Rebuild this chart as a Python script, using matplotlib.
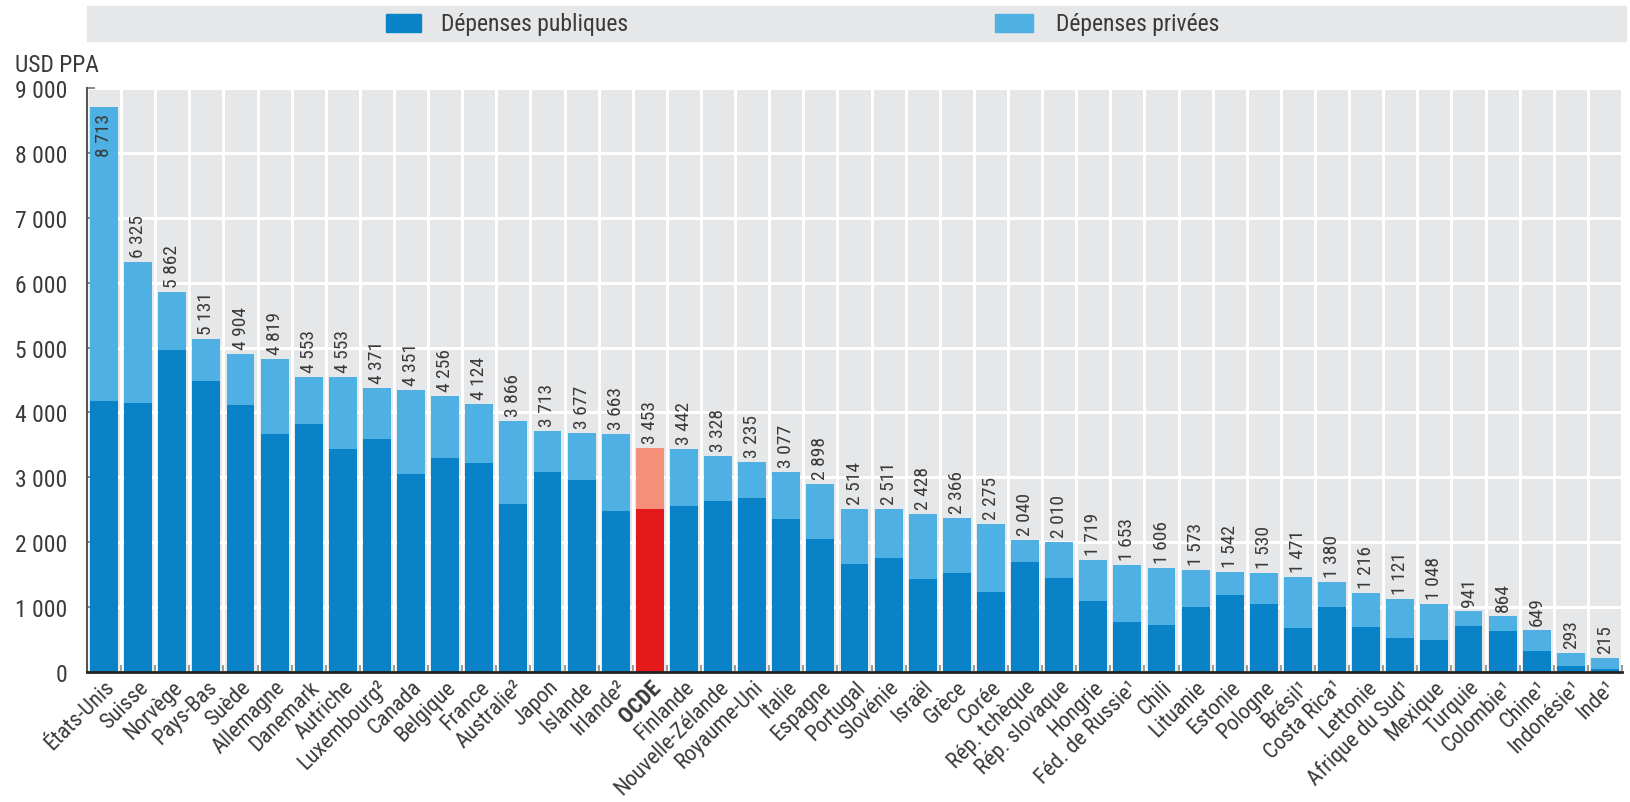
import numpy as np
import matplotlib
matplotlib.use("Agg")
import matplotlib.pyplot as plt
import matplotlib.font_manager as fm
from matplotlib.patches import Rectangle
import matplotlib.transforms as mtransforms

# ---------------- data ----------------
countries = ["États-Unis", "Suisse", "Norvège", "Pays-Bas", "Suède", "Allemagne", "Danemark",
             "Autriche", "Luxembourg²", "Canada", "Belgique", "France", "Australie²", "Japon",
             "Islande", "Irlande²", "OCDE", "Finlande", "Nouvelle-Zélande", "Royaume-Uni",
             "Italie", "Espagne", "Portugal", "Slovénie", "Israël", "Grèce", "Corée",
             "Rép. tchèque", "Rép. slovaque", "Hongrie", "Féd. de Russie¹", "Chili", "Lituanie",
             "Estonie", "Pologne", "Brésil¹", "Costa Rica¹", "Lettonie", "Afrique du Sud¹",
             "Mexique", "Turquie", "Colombie¹", "Chine¹", "Indonésie¹", "Inde¹"]
totals = [8713, 6325, 5862, 5131, 4904, 4819, 4553, 4553, 4371, 4351, 4256, 4124, 3866, 3713,
          3677, 3663, 3453, 3442, 3328, 3235, 3077, 2898, 2514, 2511, 2428, 2366, 2275, 2040,
          2010, 1719, 1653, 1606, 1573, 1542, 1530, 1471, 1380, 1216, 1121, 1048, 941, 864,
          649, 293, 215]
public = [4180, 4150, 4970, 4490, 4110, 3670, 3815, 3440, 3585, 3055, 3300, 3225, 2595, 3080,
          2955, 2480, 2510, 2560, 2635, 2680, 2365, 2055, 1660, 1755, 1440, 1525, 1235, 1690,
          1455, 1090, 765, 730, 1005, 1185, 1055, 675, 1005, 700, 520, 500, 715, 635,
          330, 85, 50]
yticks = [0, 1000, 2000, 3000, 4000, 5000, 6000, 7000, 8000, 9000]
legend_labels = ["Dépenses publiques", "Dépenses privées"]
unit_label = "USD PPA"
highlight = "OCDE"

# ---------------- fonts ----------------
names = {f.name for f in fm.fontManager.ttflist}
if "Liberation Sans Narrow" in names:
    NARROW = "Liberation Sans Narrow"
elif "Roboto Condensed" in names:
    NARROW = "Roboto Condensed"
else:
    NARROW = "Liberation Sans"

TXT = "#3a3a3a"
C_PUB = "#0a82c8"
C_PRIV = "#4fb0e4"
C_PUB_H = "#e3191b"
C_PRIV_H = "#f4907a"
BG = "#e6e7e9"

W, H = 1630, 803
fig = plt.figure(figsize=(W / 100, H / 100), dpi=100)
fig.patch.set_facecolor("white")

ax = fig.add_axes([87 / W, 1 - 673 / H, (1622 - 87) / W, (673 - 89) / H])
ax.set_facecolor(BG)

n = len(countries)
x = np.arange(n)
pub = np.array(public, dtype=float)
tot = np.array(totals, dtype=float)
priv = tot - pub

pub_cols = [C_PUB_H if c == highlight else C_PUB for c in countries]
priv_cols = [C_PRIV_H if c == highlight else C_PRIV for c in countries]

bw = 0.82
ax.bar(x, pub, width=bw, color=pub_cols, zorder=3, linewidth=0)
ax.bar(x, priv, bottom=pub, width=bw, color=priv_cols, zorder=3, linewidth=0)

def fmt(v):
    return f"{int(v):,}".replace(",", " ")

ax.set_xlim(-0.5, n - 0.5)
ax.set_ylim(0, 9000)

up = mtransforms.offset_copy(ax.transData, fig=fig, x=0, y=5, units="dots")
down = mtransforms.offset_copy(ax.transData, fig=fig, x=0, y=-6, units="dots")
for xi, t in zip(x, totals):
    if t > 8000:
        ax.text(xi, t, fmt(t), rotation=90, ha="center", va="top", fontsize=14,
                family=NARROW, color=TXT, zorder=4, transform=down)
    else:
        ax.text(xi, t, fmt(t), rotation=90, ha="center", va="bottom", fontsize=14,
                family=NARROW, color=TXT, zorder=4, transform=up)

ax.set_yticks(yticks)
ax.set_yticklabels([fmt(v) for v in yticks], family=NARROW, fontsize=17, color=TXT)
ax.yaxis.grid(True, color="white", lw=2.2, zorder=1)
ax.set_xticks(np.arange(-0.5, n, 1), minor=True)
ax.xaxis.grid(True, which="minor", color="white", lw=2.2, zorder=1)
ax.set_axisbelow(True)

ax.set_xticks(x)
ax.set_xticklabels(countries, rotation=45, ha="right", va="top",
                   rotation_mode="anchor", family=NARROW, fontsize=16, color=TXT)
for lbl in ax.get_xticklabels():
    if lbl.get_text() == highlight:
        lbl.set_fontweight("bold")
shift = mtransforms.ScaledTranslation(-9 / 100, 0, fig.dpi_scale_trans)
for lbl in ax.get_xticklabels():
    lbl.set_transform(lbl.get_transform() + shift)
ax.tick_params(axis="x", which="major", length=0, pad=3)
ax.tick_params(axis="x", which="minor", direction="in", length=5, color="#8a8a8a", width=1.2)
ax.tick_params(axis="y", direction="in", length=6, color="#777777", width=1.2, pad=14)

for s in ("top", "right"):
    ax.spines[s].set_visible(False)
ax.spines["left"].set_color("#555555")
ax.spines["left"].set_linewidth(1.5)
ax.spines["bottom"].set_color("#222222")
ax.spines["bottom"].set_linewidth(2)
ax.spines["left"].set_zorder(5)
ax.spines["bottom"].set_zorder(5)

# legend band
fig.patches.append(Rectangle((87 / W, 1 - 42 / H), (1626 - 87) / W, 35 / H,
                             transform=fig.transFigure, color=BG, zorder=0))
fig.patches.append(Rectangle((386 / W, 1 - 33 / H), 35 / W, 18 / H,
                             transform=fig.transFigure, color=C_PUB, zorder=1))
fig.text(441 / W, 1 - 24.5 / H, legend_labels[0], family=NARROW, fontsize=17,
         color=TXT, va="center", ha="left")
fig.patches.append(Rectangle((995 / W, 1 - 33 / H), 38 / W, 18 / H,
                             transform=fig.transFigure, color=C_PRIV, zorder=1))
fig.text(1056 / W, 1 - 24.5 / H, legend_labels[1], family=NARROW, fontsize=17,
         color=TXT, va="center", ha="left")

fig.text(15 / W, 1 - 66 / H, unit_label, family=NARROW, fontsize=17, color=TXT,
         va="center", ha="left")

fig.savefig("out.png", dpi=100, facecolor="white")
